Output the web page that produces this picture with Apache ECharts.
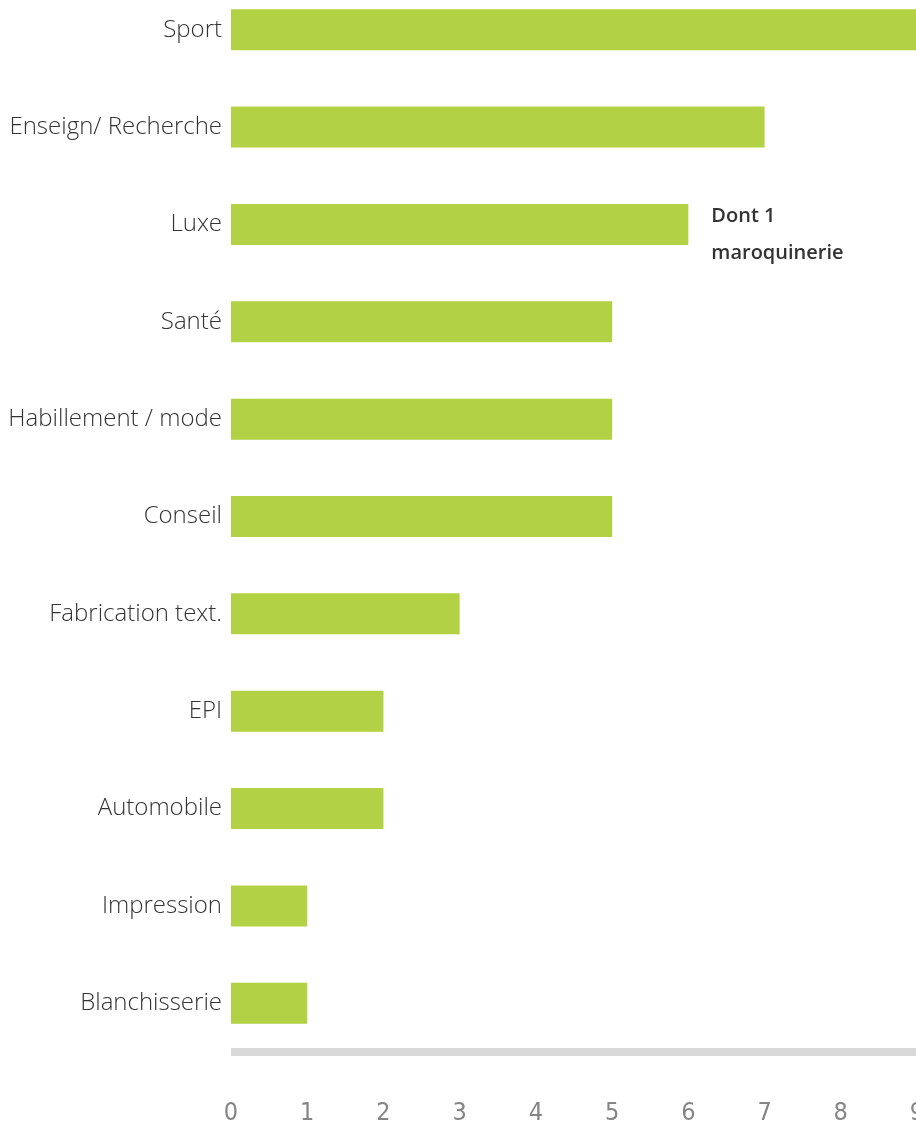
<!DOCTYPE html>
<html><head><meta charset="utf-8">
<script src="https://cdn.jsdelivr.net/npm/echarts@6/dist/echarts.min.js"></script>
<style>html,body{margin:0;padding:0;background:#fff;overflow:hidden;width:916px;height:1133px;}
#c{position:absolute;left:0;top:-19px;width:916px;height:1152px;}</style>
</head><body><div id="c"></div>
<script>
const categories = ["Sport","Enseign/ Recherche","Luxe","Santé","Habillement / mode","Conseil","Fabrication text.","EPI","Automobile","Impression","Blanchisserie"];
const values = [9,7,6,5,5,5,3,2,2,1,1];
const annotationCategory = "Luxe";
const annotationText = "Dont 1\nmaroquinerie";
const xTicks = [0,1,2,3,4,5,6,7,8,9];

const chart = echarts.init(document.getElementById('c'));
const data = values.map((v,i)=>{
  const item = {value: v};
  if (categories[i] === annotationCategory) {
    item.label = {show: true, position: 'right', distance: 23, offset:[0,10],
      formatter: annotationText, color:'#333', fontSize: 20, fontWeight: 600,
      fontFamily: '"Open Sans"', lineHeight: 37, align:'left'};
  }
  return item;
});
chart.setOption({
  animation: false,
  grid: {left: 231, width: 686, top: 0, height: 1071, containLabel: false, outerBoundsMode: 'none'},
  xAxis: {type: 'value', min: 0, max: 9, interval: 1,
    axisLine: {show: true, onZero: false, lineStyle: {color: '#d9d9d9', width: 8, cap: 'butt'}},
    splitLine: {show: false}, axisTick: {show: false},
    axisLabel: {show: true, margin: 49, color: '#858585', fontSize: 25,
      fontFamily: '"Liberation Sans Narrow", "DejaVu Sans Condensed", sans-serif',
      showMaxLabel: true, hideOverlap: false, formatter: v => xTicks.includes(v) ? String(v) : ''}},
  yAxis: {type: 'category', data: categories, inverse: true,
    axisLine: {show: false}, axisTick: {show: false},
    axisLabel: {margin: 9, color: '#333', fontSize: 24, fontFamily: '"Open Sans"', fontWeight: 300}},
  series: [{type: 'bar', data: data, barWidth: 41, itemStyle: {color: '#b2d145'}, label:{show:false}}]
});
</script></body></html>
